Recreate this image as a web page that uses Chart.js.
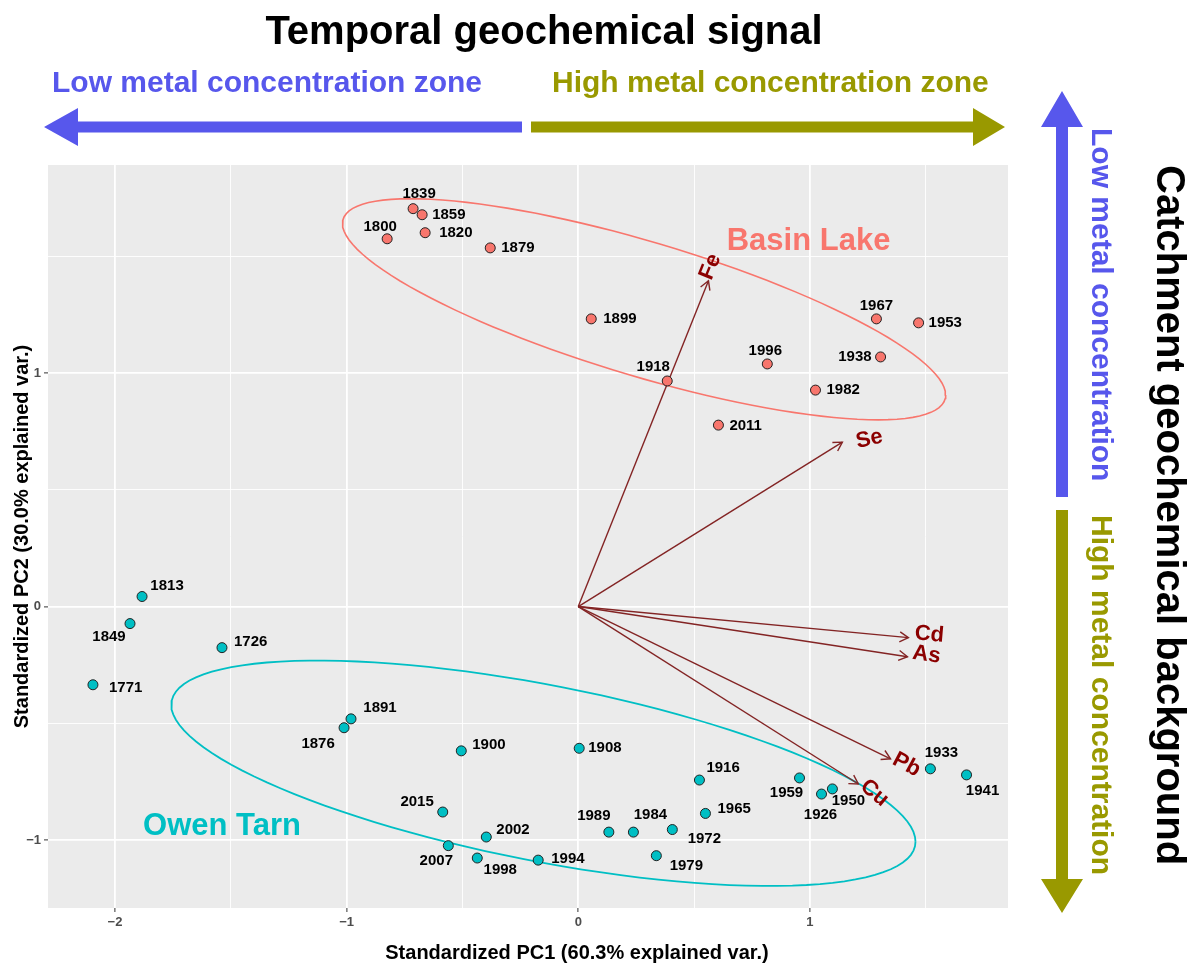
<!DOCTYPE html>
<html><head><meta charset="utf-8">
<script src="https://cdn.jsdelivr.net/npm/chart.js@4.4.1/dist/chart.umd.min.js"></script>
<style>html,body{margin:0;padding:0;background:#fff;} #wrap{width:1199px;height:965px;position:relative;}</style>
</head><body><div id="wrap"><canvas id="c"></canvas></div>
<script>
// ---------- data ----------
const basinYears = [1839,1859,1800,1820,1879,1899,1918,1996,1967,1953,1938,1982,2011];
const basinPC1 = [-0.713,-0.674,-0.825,-0.661,-0.380,0.056,0.384,0.816,1.287,1.469,1.305,1.024,0.605];
const basinPC2 = [1.704,1.678,1.575,1.601,1.536,1.232,0.966,1.039,1.232,1.215,1.069,0.927,0.777];

const owenYears = [1813,1849,1726,1771,1891,1876,1900,1908,1916,1959,1926,1950,2015,1965,2002,1989,1984,1972,2007,1998,1994,1979,1933,1941];
const owenPC1 = [-1.883,-1.935,-1.538,-2.095,-0.981,-1.011,-0.505,0.004,0.523,0.955,1.050,1.097,-0.585,0.549,-0.397,0.132,0.238,0.406,-0.561,-0.436,-0.173,0.337,1.520,1.676];
const owenPC2 = [0.043,-0.073,-0.176,-0.335,-0.481,-0.519,-0.618,-0.607,-0.743,-0.734,-0.803,-0.781,-0.880,-0.886,-0.987,-0.966,-0.966,-0.955,-1.024,-1.077,-1.086,-1.067,-0.695,-0.721];

const varNames = ['Fe','Se','Cd','As','Pb','Cu'];
const varPC1 = [0.562,1.140,1.425,1.421,1.348,1.209];
const varPC2 = [1.395,0.704,-0.133,-0.215,-0.652,-0.760];

const groupNames = ['Basin Lake','Owen Tarn'];
const groupLabelPC1 = [0.994,-1.538];
const groupLabelPC2 = [1.562,-0.940];

const xMajor = [-2,-1,0,1];
const xTickLabels = ['\u22122','\u22121','0','1'];
const xMinor = [-1.5,-0.5,0.5,1.5];
const yMajor = [-1,0,1];
const yTickLabels = ['\u22121','0','1'];
const yMinor = [-0.5,0.5,1.5];

const xTitle = 'Standardized PC1 (60.3% explained var.)';
const yTitle = 'Standardized PC2 (30.0% explained var.)';
const ellipseProb = 0.68;

// ---------- styles ----------
const basinColor = '#F8766D', owenColor = '#00BFC4';
const blue = '#5757EC', olive = '#999900';
const varLineColor = '#832424', varTextColor = '#8B0000';
const labelNudge = {
 1839:[6,-15,'center'],1859:[10,0,'left'],1800:[-7,-12,'center'],1820:[14,0,'left'],1879:[11,0,'left'],
 1899:[12,0,'left'],1918:[-14,-14,'center'],1996:[-2,-13,'center'],1967:[0,-13,'center'],1953:[10,0,'left'],
 1938:[-9,0,'right'],1982:[11,0,'left'],2011:[11,1,'left'],
 1813:[25,-11,'center'],1849:[-21,13,'center'],1726:[12,-6,'left'],1771:[16,3,'left'],1891:[29,-11,'center'],
 1876:[-26,16,'center'],1900:[11,-6,'left'],1908:[9,0,'left'],1916:[7,-12,'left'],1959:[-13,15,'center'],
 1926:[-1,21,'center'],1950:[16,12,'center'],2015:[-9,-10,'right'],1965:[12,-5,'left'],2002:[10,-7,'left'],
 1989:[-15,-16,'center'],1984:[17,-17,'center'],1972:[32,9,'center'],2007:[-12,15,'center'],1998:[23,12,'center'],
 1994:[13,-1,'left'],1979:[30,10,'center'],1933:[11,-16,'center'],1941:[16,16,'center']
};
const varLabelStyle = {Fe:[2,-14,-68],Se:[27,-3,-12],Cd:[21,-3,5],As:[19,-2,8],Pb:[16,6,28],Cu:[16,9,40]};

// ---------- helpers ----------
function pts(xs, ys){ return xs.map((x,i)=>({x:x,y:ys[i]})); }
function ellipse(xs, ys, prob){
  const n = xs.length;
  const mx = xs.reduce((a,b)=>a+b,0)/n, my = ys.reduce((a,b)=>a+b,0)/n;
  let sxx=0, syy=0, sxy=0;
  for(let i=0;i<n;i++){ const dx=xs[i]-mx, dy=ys[i]-my; sxx+=dx*dx; syy+=dy*dy; sxy+=dx*dy; }
  sxx/=(n-1); syy/=(n-1); sxy/=(n-1);
  const a = Math.sqrt(sxx), b = sxy/a, c = Math.sqrt(syy-b*b);
  const ed = Math.sqrt(-2*Math.log(1-prob));
  const out = [];
  for(let k=0;k<=120;k++){
    const t = 2*Math.PI*k/120, ct=Math.cos(t), st=Math.sin(t);
    out.push({x: mx + ed*(ct*a), y: my + ed*(ct*b + st*c)});
  }
  return out;
}
function fmtTick(v, majors, labels){ const i = majors.indexOf(v); return i>=0 ? labels[i] : ''; }
function isMajor(v, majors){ return majors.indexOf(v)>=0; }

const datasets = [
  {label:'Basin Lake', data:pts(basinPC1,basinPC2), backgroundColor:basinColor, borderColor:'#222', borderWidth:1, pointRadius:5, order:0},
  {label:'Owen Tarn', data:pts(owenPC1,owenPC2), backgroundColor:owenColor, borderColor:'#222', borderWidth:1, pointRadius:5, order:0},
  {label:'ellB', data:ellipse(basinPC1,basinPC2,ellipseProb), showLine:true, pointRadius:0, borderColor:basinColor, borderWidth:1.6, fill:false, tension:0, order:3},
  {label:'ellO', data:ellipse(owenPC1,owenPC2,ellipseProb), showLine:true, pointRadius:0, borderColor:owenColor, borderWidth:1.8, fill:false, tension:0, order:3}
];
varNames.forEach((nm,i)=>{
  datasets.push({label:'var'+nm, data:[{x:0,y:0},{x:varPC1[i],y:varPC2[i]}], showLine:true, pointRadius:0, borderColor:varLineColor, borderWidth:1.4, fill:false, order:2});
});

function fatArrow(ctx, x0,y0,x1,y1, shaft, headL, headHalf, color){
  const ang = Math.atan2(y1-y0, x1-x0), len = Math.hypot(x1-x0,y1-y0);
  ctx.save(); ctx.translate(x0,y0); ctx.rotate(ang);
  ctx.fillStyle=color; ctx.beginPath();
  ctx.moveTo(0,-shaft/2); ctx.lineTo(len-headL,-shaft/2); ctx.lineTo(len-headL,-headHalf);
  ctx.lineTo(len,0); ctx.lineTo(len-headL,headHalf); ctx.lineTo(len-headL,shaft/2); ctx.lineTo(0,shaft/2);
  ctx.closePath(); ctx.fill(); ctx.restore();
}

const deco = {
  id:'deco',
  beforeDraw(chart){
    const {ctx, chartArea:a} = chart;
    ctx.save(); ctx.fillStyle='#EBEBEB'; ctx.fillRect(a.left,a.top,a.right-a.left,a.bottom-a.top); ctx.restore();
  },
  afterDatasetsDraw(chart){
    const ctx = chart.ctx, xs = chart.scales.x, ys = chart.scales.y;
    ctx.save();
    // variable arrowheads + labels
    varNames.forEach((nm,i)=>{
      const x0=xs.getPixelForValue(0), y0=ys.getPixelForValue(0);
      const x1=xs.getPixelForValue(varPC1[i]), y1=ys.getPixelForValue(varPC2[i]);
      const ang=Math.atan2(y1-y0,x1-x0), L=10, h=Math.PI/6;
      ctx.strokeStyle=varLineColor; ctx.lineWidth=1.4; ctx.beginPath();
      ctx.moveTo(x1-L*Math.cos(ang-h), y1-L*Math.sin(ang-h)); ctx.lineTo(x1,y1);
      ctx.lineTo(x1-L*Math.cos(ang+h), y1-L*Math.sin(ang+h)); ctx.stroke();
      const st=varLabelStyle[nm];
      ctx.save(); ctx.translate(x1+st[0], y1+st[1]); ctx.rotate(st[2]*Math.PI/180);
      ctx.fillStyle=varTextColor; ctx.font='bold 22px "Liberation Sans", Arial, sans-serif';
      ctx.textAlign='center'; ctx.textBaseline='middle'; ctx.fillText(nm,0,0); ctx.restore();
    });
    // point labels
    ctx.fillStyle='#000'; ctx.font='bold 15px "Liberation Sans", Arial, sans-serif'; ctx.textBaseline='middle';
    [[0,basinYears],[1,owenYears]].forEach(([di,years])=>{
      const meta = chart.getDatasetMeta(di);
      years.forEach((yr,i)=>{
        const el = meta.data[i], nd = labelNudge[yr];
        ctx.textAlign = nd[2]; ctx.fillText(String(yr), el.x+nd[0], el.y+nd[1]);
      });
    });
    // group labels
    ctx.font='bold 31px "Liberation Sans", Arial, sans-serif'; ctx.textAlign='center';
    [basinColor, owenColor].forEach((col,i)=>{
      ctx.fillStyle=col;
      ctx.fillText(groupNames[i], xs.getPixelForValue(groupLabelPC1[i]), ys.getPixelForValue(groupLabelPC2[i]));
    });
    ctx.restore();
  },
  afterDraw(chart){
    const ctx = chart.ctx, a = chart.chartArea;
    ctx.save();
    const F = '"Liberation Sans", Arial, sans-serif';
    // axis titles
    ctx.fillStyle='#000'; ctx.font='bold 20px '+F; ctx.textAlign='center'; ctx.textBaseline='middle';
    ctx.fillText(xTitle, 577, 953);
    ctx.save(); ctx.translate(22,(a.top+a.bottom)/2); ctx.rotate(-Math.PI/2); ctx.fillText(yTitle,0,0); ctx.restore();
    // top title
    ctx.font='bold 40px '+F; ctx.textBaseline='alphabetic'; ctx.fillText('Temporal geochemical signal', 544, 44);
    ctx.font='bold 30px '+F; ctx.textAlign='left';
    ctx.fillStyle=blue; ctx.fillText('Low metal concentration zone', 52, 92);
    ctx.fillStyle=olive; ctx.fillText('High metal concentration zone', 552, 92);
    // big arrows
    fatArrow(ctx, 522,127, 44,127, 11, 34, 19, blue);
    fatArrow(ctx, 531,127, 1005,127, 11, 32, 19, olive);
    fatArrow(ctx, 1062,497, 1062,91, 12, 36, 21, blue);
    fatArrow(ctx, 1062,510, 1062,913, 12, 34, 21, olive);
    // vertical texts
    ctx.textBaseline='middle';
    ctx.save(); ctx.translate(1100,128); ctx.rotate(Math.PI/2); ctx.fillStyle=blue; ctx.font='bold 30px '+F;
    ctx.fillText('Low metal concentration',0,0); ctx.restore();
    ctx.save(); ctx.translate(1100,515); ctx.rotate(Math.PI/2); ctx.fillStyle=olive; ctx.font='bold 30px '+F;
    ctx.fillText('High metal concentration',0,0); ctx.restore();
    ctx.save(); ctx.translate(1168,165); ctx.rotate(Math.PI/2); ctx.fillStyle='#000'; ctx.font='bold 40px '+F;
    ctx.fillText('Catchment geochemical background',0,0); ctx.restore();
    ctx.restore();
  }
};

new Chart(document.getElementById('c'), {
  type:'scatter',
  data:{datasets:datasets},
  plugins:[deco],
  options:{
    responsive:true, maintainAspectRatio:false, animation:false, events:[],
    layout:{padding:{top:165,left:0,right:191,bottom:0}},
    plugins:{legend:{display:false}, tooltip:{enabled:false}, title:{display:false}},
    scales:{
      x:{type:'linear', min:-2.289, max:1.855,
        afterBuildTicks:(s)=>{ s.ticks = xMajor.concat(xMinor).sort((p,q)=>p-q).map(v=>({value:v})); },
        afterFit:(s)=>{ s.height = 57; },
        border:{display:false},
        grid:{color:'#FFFFFF', lineWidth:(c)=>isMajor(c.tick.value,xMajor)?1.8:0.9, drawTicks:true, tickLength:4,
              tickColor:(c)=>isMajor(c.tick.value,xMajor)?'#333333':'rgba(0,0,0,0)', tickWidth:1},
        ticks:{autoSkip:false, maxRotation:0, padding:3, color:'#4D4D4D', font:{family:'"Liberation Sans", Arial, sans-serif', size:13, weight:'bold'},
               callback:(v)=>fmtTick(v,xMajor,xTickLabels)}
      },
      y:{type:'linear', min:-1.291, max:1.891,
        afterBuildTicks:(s)=>{ s.ticks = yMajor.concat(yMinor).sort((p,q)=>p-q).map(v=>({value:v})); },
        afterFit:(s)=>{ s.width = 48; },
        border:{display:false},
        grid:{color:'#FFFFFF', lineWidth:(c)=>isMajor(c.tick.value,yMajor)?1.8:0.9, drawTicks:true, tickLength:4,
              tickColor:(c)=>isMajor(c.tick.value,yMajor)?'#333333':'rgba(0,0,0,0)', tickWidth:1},
        ticks:{autoSkip:false, padding:3, color:'#4D4D4D', font:{family:'"Liberation Sans", Arial, sans-serif', size:13, weight:'bold'},
               callback:(v)=>fmtTick(v,yMajor,yTickLabels)}
      }
    }
  }
});
</script></body></html>
